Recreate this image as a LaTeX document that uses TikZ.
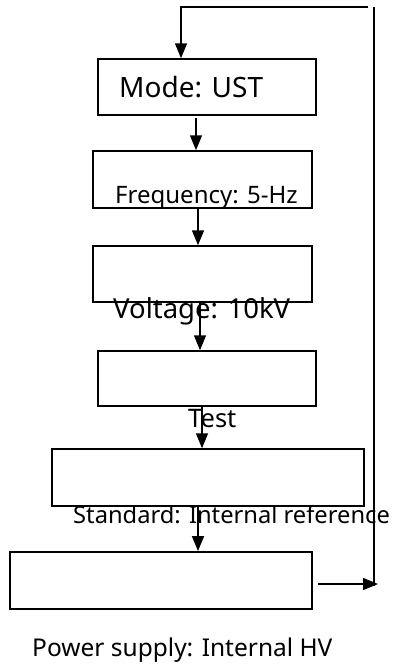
\documentclass[tikz,border=0pt]{standalone}
\usepackage{fontspec}
\setmainfont{Noto Sans}
\usetikzlibrary{arrows.meta}
\begin{document}
\begin{tikzpicture}[x=1pt,y=-1pt,
  box/.style={draw,line width=1.5pt,inner sep=0pt},
  lbl/.style={inner sep=0pt,anchor=base west},
  arr/.style={line width=1.5pt,-{Triangle[length=15pt,width=12pt]}},
  ln/.style={line width=1.5pt}]
\useasboundingbox (0,0) rectangle (394,664);
% boxes
\node[box,minimum width=218pt,minimum height=56pt] (b1) at (207,87) {};
\node[box,minimum width=219pt,minimum height=57pt] (b2) at (202.5,179.5) {};
\node[box,minimum width=219pt,minimum height=56pt] (b3) at (202.5,274) {};
\node[box,minimum width=218pt,minimum height=55pt] (b4) at (207,378.5) {};
\node[box,minimum width=312pt,minimum height=57pt] (b5) at (208,477.5) {};
\node[box,minimum width=302pt,minimum height=57pt,line width=1.9pt] (b6) at (161,580.5) {};
% labels
\node[lbl,font=\fontsize{28}{28}\selectfont] (t1) at (119,97) {Mode: UST};
\node[lbl,font=\fontsize{24}{24}\selectfont] (t2) at (115,203) {Frequency: 5-Hz};
\node[lbl,font=\fontsize{27.5}{27.5}\selectfont] (t3) at (113,318) {Voltage: 10kV};
\node[lbl,font=\fontsize{25.5}{25.5}\selectfont] (t4) at (188,427) {Test};
\node[lbl,font=\fontsize{23.7}{23.7}\selectfont] (t5) at (73,523) {Standard: Internal reference};
\node[lbl,font=\fontsize{24.5}{24.5}\selectfont] (t6) at (32,656) {Power supply: Internal HV};
% arrows between boxes
\draw[arr] ([xshift=-11pt,yshift=-2pt]b1.south) -- ([xshift=-11pt]b1.south |- b2.north);
\draw[arr] ([xshift=-4.5pt]b2.south) -- ([xshift=-4.5pt]b2.south |- b3.north);
\draw[arr] ([xshift=-2.5pt]b3.south) -- ([xshift=-2.5pt]b3.south |- b4.north);
\draw[arr] ([xshift=-5pt]b4.south) -- ([xshift=-5pt]b4.south |- b5.north);
\draw[arr] ([xshift=-10pt]b5.south) -- ([xshift=-10pt]b5.south |- b6.north);
% loop
\coordinate (pa) at (318,584);
\coordinate (pb) at (378,584);
\coordinate (rb) at (374,586);
\coordinate (rt) at (374,7);
\coordinate (hr) at (368,7);
\coordinate (tl) at (181,7);
\draw[arr] (pa) -- (pb);
\draw[ln] (rb) -- (rt);
\draw[arr] (hr) -- (tl) -- (tl |- b1.north);
\end{tikzpicture}
\end{document}
